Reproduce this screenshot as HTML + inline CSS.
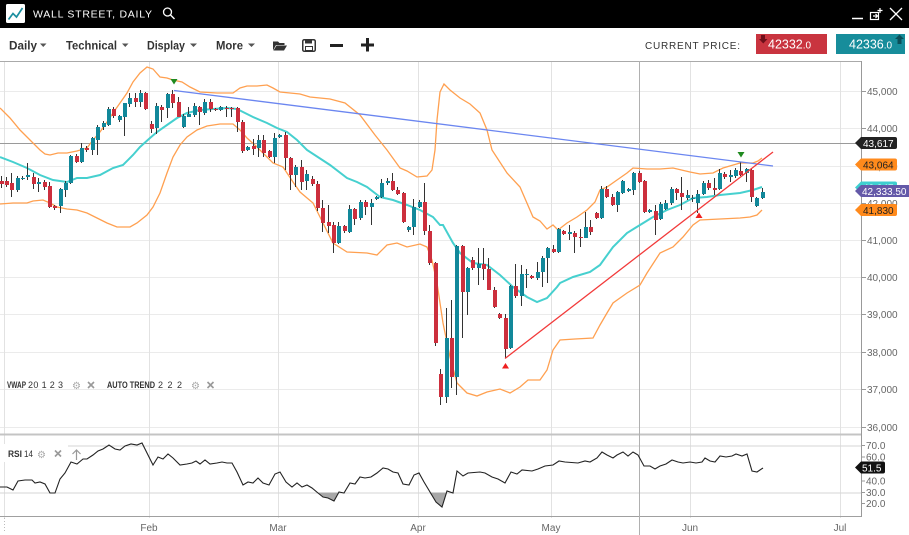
<!DOCTYPE html>
<html><head><meta charset="utf-8"><style>
html,body{margin:0;padding:0;background:#fff;width:909px;height:535px;overflow:hidden}
svg{display:block;font-family:"Liberation Sans",sans-serif}
</style></head><body>
<svg width="909" height="535" viewBox="0 0 909 535" xmlns="http://www.w3.org/2000/svg">
<rect x="0" y="0" width="909" height="535" fill="#fff"/>
<!-- grid -->
<g stroke="#ebebeb" stroke-width="1" shape-rendering="crispEdges">
<path d="M0 91.5H862M0 128.5H862M0 166.5H862M0 203.5H862M0 240.5H862M0 277.5H862M0 314.5H862M0 352.5H862M0 389.5H862M0 427.5H862"/>
<path d="M4.5 61V518M149.5 61V518M278.5 61V518M418.5 61V518M551.5 61V518M690.5 61V518M840.5 61V518" stroke="#e2e2e2"/>
</g>
<path d="M4.5 518V532" stroke="#bbb" stroke-dasharray="1,2"/>
<!-- RSI grid -->
<path d="M0 446H862M0 493H862" stroke="#d5d5d5" shape-rendering="crispEdges"/>
<!-- frame -->
<path d="M0 61.5H862" stroke="#aaa"/>
<path d="M0 434.5H862" stroke="#c4c4c4" stroke-width="2"/>
<path d="M0 516.5H862" stroke="#a0a0a0"/>
<path d="M861.5 61V517" stroke="#999"/>
<!-- crosshair -->
<path d="M0 143.5H862" stroke="#9a9a9a" shape-rendering="crispEdges"/>
<path d="M639.5 61V535" stroke="#b0b0b0" shape-rendering="crispEdges"/>
<!-- bands -->
<polyline fill="none" stroke="#ffa050" stroke-width="1.3" points="0,108 10,118 20,130 30,140 40,150 45,154 50,155 58,153 67,153 77,151 87,148 93,140 100,132 107,122 113,113 120,103 127,93 133,82 140,73 147,67 153,69 160,77 167,78 173,80 182,82 190,87 200,92 217,93 233,93 240,88 247,86 257,86 267,85 273,88 280,92 290,93 300,94 310,97 330,99 345,103 360,115 375,135 387,150 400,168 407,171 417,177 427,176 432,170 435,150 437,120 440,92 444,84 450,90 460,98 470,104 480,113 487,130 492,150 507,173 520,187 533,217 540,221 547,229 553,225 558,230 567,223 577,217 587,210 595,202 600,190 607,187 617,180 627,173 633,168 647,169 660,169 673,168 690,172 700,174 713,173 723,168 740,163 753,163 758,161 762,158"/>
<polyline fill="none" stroke="#ffa050" stroke-width="1.3" points="0,204 13,203 27,203 33,201 43,200 50,203 57,207 67,209 77,210 87,213 97,218 107,223 117,227 130,227 137,223 147,215 153,207 160,193 167,173 173,157 180,145 187,137 197,130 207,126 220,124 233,124 240,130 247,138 257,147 267,157 273,163 283,167 293,182 300,192 313,203 333,243 347,252 367,253 377,255 387,245 397,243 407,247 420,244 427,247 432,260 437,283 443,323 450,357 457,383 467,393 477,396 487,392 500,389 510,393 520,387 528,380 540,380 547,370 553,350 560,340 575,339 593,338 600,325 607,313 613,303 627,293 640,285 647,273 660,253 673,247 683,237 693,225 700,220 720,219 740,218 750,217 757,215 762,210"/>
<polyline fill="none" stroke="#46d0cf" stroke-width="2" points="0,157 13,162 27,168 40,175 53,180 67,182 77,178 87,178 100,175 113,168 123,165 133,155 140,147 150,138 157,132 167,125 177,118 187,113 200,110 213,109 227,108 237,109 243,112 253,117 267,123 277,128 287,132 297,140 307,150 330,165 347,178 357,182 367,187 380,197 393,200 407,205 420,210 433,217 440,225 443,225 453,243 460,253 473,263 487,265 500,275 513,287 527,297 537,302 547,298 557,287 560,283 573,277 590,272 600,265 613,247 627,233 640,225 653,217 667,210 680,205 693,198 707,197 720,195 740,193 753,190 762,187"/>
<!-- candles -->
<g shape-rendering="crispEdges">
<path fill="none" stroke="#333" stroke-width="1" d="M1.5 176V188M6.5 177V187M11.5 173V197M17.5 176V192M22.5 176V180M27.5 163V180M33.5 173V189M38.5 178V192M44.5 180V190M49.5 182V208M54.5 205V210M60.5 188V213M65.5 181V197M70.5 155V184M76.5 154V163M81.5 143V163M86.5 146V152M92.5 137V155M97.5 125V155M103.5 121V130M108.5 107V126M113.5 107V118M119.5 115V122M124.5 103V136M129.5 93V107M135.5 93V107M140.5 90V107M145.5 92V110M151.5 121V133M156.5 103V134M161.5 105V122M167.5 93V118M172.5 90V108M178.5 97V117M183.5 114V128M188.5 107V117M194.5 103V117M199.5 106V125M204.5 99V115M210.5 99V112M215.5 108V111M220.5 106V111M226.5 106V117M231.5 107V117M237.5 107V132M242.5 120V153M247.5 146V151M253.5 139V155M258.5 135V157M263.5 135V157M269.5 150V158M274.5 133V163M279.5 134V138M285.5 132V170M290.5 157V190M295.5 165V187M301.5 160V190M306.5 170V190M312.5 176V186M317.5 181V211M322.5 200V232M328.5 205V233M333.5 222V253M338.5 222V244M344.5 225V233M349.5 205V233M354.5 208V225M360.5 200V220M365.5 200V215M371.5 199V225M376.5 196V200M381.5 179V198M387.5 178V185M392.5 173V191M397.5 187V195M403.5 192V223M408.5 226V232M413.5 199V235M419.5 200V208M424.5 183V235M429.5 225V265M435.5 262V346M440.5 369V405M446.5 308V403M451.5 300V388M456.5 245V395M462.5 245V338M467.5 267V315M472.5 257V270M478.5 248V285M483.5 248V280M488.5 258V290M494.5 287V308M499.5 313V319M505.5 314V358M510.5 285V349M515.5 264V298M521.5 265V306M526.5 269V288M531.5 275V279M537.5 262V280M542.5 256V287M547.5 247V283M553.5 245V253M558.5 228V253M563.5 230V235M569.5 225V240M574.5 231V253M580.5 229V247M585.5 212V238M590.5 220V235M596.5 212V219M601.5 186V219M606.5 186V198M612.5 194V206M617.5 191V212M622.5 180V194M628.5 188V192M633.5 172V195M639.5 171V183M644.5 180V213M649.5 209V213M655.5 205V235M660.5 202V220M665.5 200V210M671.5 187V205M676.5 188V200M681.5 177V210M687.5 190V200M692.5 195V202M697.5 190V213M703.5 181V195M708.5 180V190M714.5 178V195M719.5 169V190M724.5 172V179M730.5 170V182M735.5 168V178M740.5 162V176M746.5 168V182M751.5 168V202M756.5 197V207M762.5 188V199"/>
<path fill="#12889a" d="M16 178h4v12h-4zM21 178h4v1h-4zM26 175h4v2h-4zM37 182h4v2h-4zM59 189h4v17h-4zM64 183h4v7h-4zM69 156h4v27h-4zM80 148h4v14h-4zM91 138h4v12h-4zM96 127h4v13h-4zM102 123h4v4h-4zM107 109h4v16h-4zM118 116h4v4h-4zM123 103h4v14h-4zM128 98h4v6h-4zM139 93h4v9h-4zM155 106h4v22h-4zM166 94h4v14h-4zM182 116h4v11h-4zM187 114h4v3h-4zM193 106h4v9h-4zM203 102h4v11h-4zM219 107h4v3h-4zM246 147h4v3h-4zM257 140h4v8h-4zM273 138h4v19h-4zM278 135h4v2h-4zM294 167h4v8h-4zM305 174h4v7h-4zM337 226h4v17h-4zM348 209h4v23h-4zM359 202h4v16h-4zM370 203h4v4h-4zM375 197h4v2h-4zM380 183h4v14h-4zM386 181h4v2h-4zM407 227h4v3h-4zM412 207h4v20h-4zM418 202h4v5h-4zM445 338h4v59h-4zM455 246h4v131h-4zM466 268h4v24h-4zM477 264h4v4h-4zM509 286h4v62h-4zM520 274h4v22h-4zM525 274h4v1h-4zM536 272h4v6h-4zM541 258h4v14h-4zM546 248h4v10h-4zM557 229h4v23h-4zM568 232h4v2h-4zM584 227h4v11h-4zM600 189h4v29h-4zM616 192h4v13h-4zM621 181h4v12h-4zM627 189h4v2h-4zM632 173h4v17h-4zM648 210h4v2h-4zM659 204h4v15h-4zM664 203h4v6h-4zM670 189h4v14h-4zM686 195h4v3h-4zM691 198h4v1h-4zM696 194h4v9h-4zM702 183h4v11h-4zM718 173h4v16h-4zM729 175h4v2h-4zM734 170h4v6h-4zM745 169h4v4h-4zM755 198h4v8h-4zM761 192h4v6h-4z"/>
<path fill="#cc2f3d" d="M0 181h4v3h-4zM5 181h4v4h-4zM10 183h4v7h-4zM32 177h4v7h-4zM43 182h4v5h-4zM48 186h4v21h-4zM53 206h4v2h-4zM75 156h4v6h-4zM85 148h4v2h-4zM112 109h4v7h-4zM134 98h4v4h-4zM144 93h4v16h-4zM150 124h4v5h-4zM160 107h4v3h-4zM171 94h4v9h-4zM177 102h4v15h-4zM198 107h4v5h-4zM209 102h4v7h-4zM214 109h4v1h-4zM225 108h4v1h-4zM230 108h4v1h-4zM236 108h4v14h-4zM241 122h4v29h-4zM252 146h4v3h-4zM262 140h4v13h-4zM268 151h4v6h-4zM284 135h4v23h-4zM289 158h4v17h-4zM300 167h4v15h-4zM311 179h4v5h-4zM316 184h4v24h-4zM321 208h4v15h-4zM327 222h4v4h-4zM332 225h4v18h-4zM343 226h4v5h-4zM353 209h4v10h-4zM364 202h4v5h-4zM391 181h4v9h-4zM396 190h4v4h-4zM402 193h4v29h-4zM423 202h4v29h-4zM428 231h4v32h-4zM434 263h4v80h-4zM439 374h4v23h-4zM450 338h4v39h-4zM461 246h4v46h-4zM471 260h4v8h-4zM482 264h4v5h-4zM487 269h4v21h-4zM493 290h4v17h-4zM498 314h4v4h-4zM504 318h4v31h-4zM514 286h4v10h-4zM530 276h4v2h-4zM552 249h4v3h-4zM562 231h4v3h-4zM573 233h4v4h-4zM579 237h4v1h-4zM589 227h4v5h-4zM595 213h4v5h-4zM605 189h4v8h-4zM611 197h4v8h-4zM638 173h4v9h-4zM643 181h4v31h-4zM654 211h4v9h-4zM675 189h4v4h-4zM680 193h4v4h-4zM707 183h4v5h-4zM713 188h4v2h-4zM723 174h4v3h-4zM739 171h4v4h-4zM750 170h4v27h-4z"/>
</g>
<!-- trend lines -->
<line x1="174" y1="90.5" x2="773" y2="166" stroke="#6b86f0" stroke-width="1.3"/>
<line x1="505" y1="358.5" x2="773" y2="152" stroke="#f23a3a" stroke-width="1.3"/>
<path d="M170.5 79h7l-3.5 5.5z M737.5 152h7l-3.5 5.5z" fill="#1f8a1f"/>
<path d="M502 368.5h7l-3.5-5.5z M695.5 218h7l-3.5-5.5z" fill="#ee2020"/>
<!-- RSI -->
<rect x="0" y="444" width="68" height="18" fill="#fff"/>
<path d="M317 492.5 323 497 328 498 334 501 338.5 492.5z M429.5 492.5 436 502 442 507 446.5 492.5z" fill="#a8a8a8"/>
<polyline fill="none" stroke="#222" stroke-width="1.1" points="0,487 7,487 13,490 18,481 25,480 32,480 35,483 40,482 45,484 50,493 55,493 60,479 65,473 71,462 77,464 83,459 87,459 93,455 98,451 103,449 109,445 115,449 120,450 125,446 131,444 137,445 142,443 147,453 153,465 158,457 163,459 168,454 173,458 180,465 187,464 192,463 196,461 200,464 205,460 210,464 217,463 222,462 227,463 232,463 237,472 243,485 248,482 253,483 258,478 263,483 269,485 275,474 280,472 286,482 292,487 297,483 302,487 307,485 312,488 318,493 323,497 328,498 334,501 339,492 344,493 350,483 355,484 360,477 365,478 371,477 377,473 383,468 388,469 393,472 398,473 403,484 409,485 414,475 419,473 424,482 430,492 436,502 442,507 447,491 453,493 457,471 463,476 468,473 480,472 485,473 492,477 498,479 505,483 511,472 517,474 522,470 532,471 538,469 545,466 553,465 559,461 565,462 578,463 585,461 590,462 597,458 602,452 607,455 613,458 617,455 623,452 628,456 633,452 638,455 644,466 650,466 655,469 660,466 666,464 672,460 678,462 683,463 690,462 696,463 702,462 705,458 710,461 715,462 720,456 726,457 732,456 736,454 742,456 747,454 752,471 757,472 763,468"/>
<!-- indicator labels -->
<g font-size="9" fill="#333">
<text x="8" y="457" font-weight="bold" textLength="14" lengthAdjust="spacingAndGlyphs">RSI</text>
<text x="24" y="457" textLength="9" lengthAdjust="spacingAndGlyphs">14</text>
<text x="7" y="388" font-weight="bold" textLength="19" lengthAdjust="spacingAndGlyphs">VWAP</text>
<text x="28" y="388" textLength="35" lengthAdjust="spacing">20 1 2 3</text>
<text x="107" y="388" font-weight="bold" textLength="48" lengthAdjust="spacingAndGlyphs">AUTO TREND</text>
<text x="158" y="388" textLength="24" lengthAdjust="spacing">2 2 2</text>
</g>
<g fill="#aaa" font-size="10">
<text x="37" y="458">⚙</text><text x="72" y="389">⚙</text><text x="191" y="389">⚙</text>
</g>
<g stroke="#999" stroke-width="1.6">
<path d="M55 450.5l6 6M61 450.5l-6 6M88 382l6 6M94 382l-6 6M207.5 382l6 6M213.5 382l-6 6"/>
</g>
<path d="M76.5 460V450M72.5 454l4-4 4 4" stroke="#999" stroke-width="1.2" fill="none"/>
<!-- right axis -->
<g stroke="#999"><path d="M862 91.5h4M862 128.5h4M862 166.5h4M862 203.5h4M862 240.5h4M862 277.5h4M862 314.5h4M862 352.5h4M862 389.5h4M862 427.5h4M862 445.5h3M862 457h3M862 481h3M862 492.5h3M862 503.5h3"/></g>
<g font-size="10" fill="#666">
<text x="867" y="95">45,000</text>
<text x="867" y="132">44,000</text>
<text x="867" y="170">43,000</text>
<text x="867" y="207">42,000</text>
<text x="867" y="244">41,000</text>
<text x="867" y="281">40,000</text>
<text x="867" y="318">39,000</text>
<text x="867" y="356">38,000</text>
<text x="867" y="393">37,000</text>
<text x="867" y="431">36,000</text>
<text x="866" y="449">70.0</text>
<text x="866" y="460.5">60.0</text>
<text x="866" y="484.5">40.0</text>
<text x="866" y="496">30.0</text>
<text x="866" y="507">20.0</text>
</g>
<!-- price tags -->
<path d="M855 143l6-6h34a2 2 0 0 1 2 2v8a2 2 0 0 1-2 2h-34z" fill="#222"/>
<text x="863" y="147" font-size="10" fill="#fff">43,617</text>
<path d="M855 164.5l6-6h34a2 2 0 0 1 2 2v8a2 2 0 0 1-2 2h-34z" fill="#ff8a1c"/>
<text x="863" y="168.5" font-size="10" fill="#222">43,064</text>
<path d="M855 187.5l6-6h34a2 2 0 0 1 2 2v8a2 2 0 0 1-2 2h-34z" fill="#3fcfd0"/>
<text x="863" y="191.5" font-size="10" fill="#fff">42,347</text>
<path d="M855 191l6-6h48v12h-48z" fill="#6459a8"/>
<text x="862" y="195" font-size="10" fill="#fff">42,333.50</text>
<path d="M855 210l6-6h34a2 2 0 0 1 2 2v8a2 2 0 0 1-2 2h-34z" fill="#ff8a1c"/>
<text x="863" y="214" font-size="10" fill="#222">41,830</text>
<path d="M855 467.5l6-6h22a2 2 0 0 1 2 2v8a2 2 0 0 1-2 2h-22z" fill="#111"/>
<text x="862" y="471.5" font-size="10" fill="#fff">51.5</text>
<!-- x axis -->
<g font-size="10" fill="#666" text-anchor="middle">
<text x="149" y="531">Feb</text><text x="278" y="531">Mar</text><text x="418" y="531">Apr</text><text x="551" y="531">May</text><text x="690" y="531">Jun</text><text x="840" y="531">Jul</text>
</g>
<!-- toolbar -->
<rect x="0" y="28" width="909" height="33" fill="#fff"/>
<g font-size="11.5" font-weight="bold" fill="#333">
<text x="9" y="49.5" textLength="28" lengthAdjust="spacingAndGlyphs">Daily</text>
<text x="66" y="49.5" textLength="51" lengthAdjust="spacingAndGlyphs">Technical</text>
<text x="147" y="49.5" textLength="38" lengthAdjust="spacingAndGlyphs">Display</text>
<text x="216" y="49.5" textLength="27" lengthAdjust="spacingAndGlyphs">More</text>
</g>
<path d="M40 43.5h6.5l-3.25 3.5z M122 43.5h6.5l-3.25 3.5z M190 43.5h7l-3.5 3.5z M248 43.5h7l-3.5 3.5z" fill="#555"/>
<path d="M273 41.5h5l1.5 1.5h5v2h-8.5l-3 5.5z M276.5 45.5h10.5l-3 5h-10.5z" fill="#333"/>
<rect x="302.75" y="39.75" width="12.5" height="11.5" rx="1.5" fill="none" stroke="#333" stroke-width="1.5"/>
<rect x="305" y="40" width="7" height="3.5" fill="#333"/>
<rect x="305.5" y="46.5" width="7" height="4" fill="none" stroke="#333" stroke-width="1"/>
<rect x="330" y="44" width="13" height="3" fill="#222"/>
<rect x="361" y="43.5" width="13" height="3" fill="#222"/>
<rect x="366" y="38" width="3" height="13.5" fill="#222"/>
<text x="645" y="49" font-size="10" fill="#333" textLength="95" lengthAdjust="spacing">CURRENT PRICE:</text>
<rect x="756" y="34" width="71" height="20" fill="#c9343f"/>
<path d="M761 35h4v4h2.5l-4.25 4.5-4.25-4.5h2z" fill="#6e0f1a"/>
<text x="768" y="48.5" font-size="12.5" fill="#fff">42332<tspan font-size="10">.0</tspan></text>
<rect x="836" y="34" width="69" height="20" fill="#178d9b"/>
<path d="M899.5 34.5l4.5 4.5h-2.5v5h-4v-5h-2.5z" fill="#0b4f59"/>
<text x="849" y="48.5" font-size="12.5" fill="#fff">42336<tspan font-size="10">.0</tspan></text>
<!-- header -->
<rect x="0" y="0" width="909" height="28" fill="#000"/>
<rect x="6" y="4" width="19" height="19" rx="1.5" fill="#fff"/>
<polyline points="8.5,19.5 13,13.5 16.5,17 22.5,8" fill="none" stroke="#1b8fa0" stroke-width="1.7"/>
<text x="33" y="17.5" font-size="10.5" fill="#fff" textLength="119" lengthAdjust="spacing">WALL STREET, DAILY</text>
<circle cx="167.5" cy="12" r="4" fill="none" stroke="#fff" stroke-width="1.3"/>
<line x1="170.5" y1="15" x2="174.5" y2="19" stroke="#fff" stroke-width="1.4"/>
<line x1="852" y1="18.5" x2="863" y2="18.5" stroke="#fff" stroke-width="1.5"/>
<rect x="870.5" y="12.5" width="8" height="7" fill="none" stroke="#fff" stroke-width="1.2"/>
<path d="M873 16h4M875.5 14l2 2-2 2M880 8v5M877.5 10.5h5" stroke="#fff" stroke-width="1.2" fill="none"/>
<path d="M890 8l12 12M902 8l-12 12" stroke="#fff" stroke-width="1.3"/>
</svg>
</body></html>
